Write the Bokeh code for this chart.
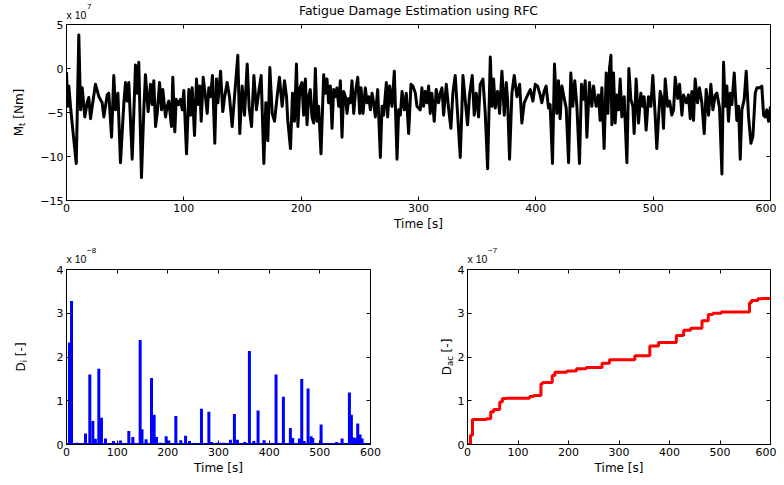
import math
from bokeh.plotting import figure
from bokeh.models import Range1d, LinearAxis, FixedTicker, Label, GridBox
from bokeh.layouts import column
from bokeh.embed import file_html
from bokeh.resources import INLINE

FONT = "DejaVu Sans"
EXP_FONT = "Liberation Sans"

# ---------------- data ----------------
title_text = "Fatigue Damage Estimation using RFC"
time_ticks = [0, 100, 200, 300, 400, 500, 600]
mt_ticks = [-15, -10, -5, 0, 5]
d_ticks = [0, 1, 2, 3, 4]

# Mt in units of 1e7 Nm
mt_time = [0, 1, 2, 3.4, 4.8, 8.3, 10.5, 12, 13.4, 15.6, 17.6, 19, 20.5, 21.9, 24.7, 27.6, 30.4, 31.8, 34.7, 36,
           38.4, 40.3, 41.8, 43.8, 46, 48.9, 50.3, 51.7, 53.1, 56, 58.8, 60.2, 61.6, 63.9, 65.9, 67.3, 69.6, 71.6,
           73, 74.4, 75.9, 77.3, 79.3, 81, 82.1, 84.4, 85.8, 87.2, 89.5, 90.6, 92.3, 93.5, 95.7, 97.2, 98.6, 100,
           102.3, 104.3, 105.7, 107.1, 109.1, 110.8, 111.9, 113.6, 114.8, 116.5, 118.5, 119.9, 121.3, 122.7, 124.4,
           126.4, 127.8, 129, 131.3, 133.2, 134.7, 136.9, 138.9, 141.2, 143.2, 146, 147.7, 149.7, 151.7, 154, 155.7,
           157.7, 159.7, 161.9, 163.9, 165.9, 168.2, 169.9, 171.6, 173.3, 175.3, 177.3, 179.5, 181.5, 183.8, 185.8,
           187.5, 188.6, 190.9, 192.6, 194.3, 196, 197.2, 198.9,
           200.7, 202.1, 203.6, 205, 206.4, 207.8, 209.2, 210.7, 212.1, 213.5, 214.9, 216.9, 219.2, 220.6, 222,
           223.4, 224.9, 226.3, 227.7, 229.1, 230.5, 232, 233.4, 234.8, 236.2, 237.7, 239.1, 240.5, 241.9, 243.3,
           244.8, 246.2, 248.2, 249.9, 251, 252.7, 254.7, 256.1, 257.5, 259, 260.4, 261.8, 263.2, 265.2, 267.5,
           268.9, 270.3, 272.6, 273.7, 275.4, 277.4, 279.4, 281.7, 283.1, 284.5, 286, 287.9, 289.6, 291.6, 293.6,
           295.3, 297.3, 298.7,
           301.5, 302.9, 304.3, 305.8, 307.2, 308.6, 310, 311.4, 313.4, 315.1, 317.1, 318.5, 320, 321.4, 323.7,
           325.6, 327.6, 329.3, 331.3, 333.3, 335.6, 337.9, 339.9, 341.8, 343.5, 345.8, 347.5, 349.2, 351.2, 352.6,
           354.9, 356.9, 358.9, 361.2, 362.6, 364, 365.4, 367.4, 369.1, 371.1, 373.1, 374.8, 375.9, 377.6, 379.6,
           381.6, 383.9, 386.2, 388.1, 390.1, 392.4, 395.3, 397.5, 399.5, 401.5,
           403.7, 405.1, 407.1, 408.8, 410.8, 412.2, 414.2, 415.9, 417.9, 419.3, 420.7, 422.2, 424.2, 425.9, 427.9,
           429.8, 431.5, 433.2, 435, 437.2, 438.9, 440.6, 442.1, 443.5, 445.7, 447.7, 449.2, 451.4, 453.4, 454.8,
           456.3, 458.2, 460, 461.4, 462.8, 464, 464.8, 466.2, 467.6, 469, 470.5, 471.9, 473.3, 475.3, 477.6, 479.3,
           481, 482.7, 483.8, 485.5, 487.5, 489.5, 491.2, 492.3, 494, 496, 498, 499.7, 501.7, 503.1, 504.8,
           506, 507.4, 508.8, 510.3, 512.3, 514, 515.9, 517.4, 518.8, 520.8, 522.5, 524.5, 525.9, 528.2, 530.1,
           531.6, 533, 534.4, 535.8, 537.8, 539.5, 541.5, 543.5, 545.2, 547.2, 549.2, 550.9, 552.9, 554.3, 556.6,
           558.6, 560, 561.4, 562.8, 564.2, 565.7, 567.1, 569.1, 571.3, 572.8, 574.2, 575.6, 577.6, 579.3, 581.3,
           583.3, 585, 587, 588.4, 590.7, 592.6, 594.1, 595.5, 596.9, 598.3, 600]
mt_val = [-0.4, -4.3, -2.0, -4.3, -6.2, -10.8, 3.8, -4.7, -2.2, -5.5, -3.9, -3.3, -5.7, -4.3, -1.8, -3.2, -3.9, -5.5,
          -3.0, -2.8, -7.8, -0.8, -4.7, -2.8, -10.7, -3.9, -1.6, -3.7, -1.6, -10.3, 0.4, -2.8, 0.7, -12.4, -4.7,
          -0.7, -4.9, -1.8, -4.1, -1.4, -6.6, -5.1, -1.6, -4.7, -2.4, -5.5, -4.3, -3.7, -6.6, -1.0, -7.2, -3.5,
          -4.1, -3.5, -4.7, -2.5,
          -9.7, -2.4, -5.3, -2.2, -7.6, -1.2, -4.1, -2.0, -6.0, -1.0, -3.3, -5.1, -2.2, -3.2, -0.8, -8.5, -1.2,
          -3.9, -0.3, -4.9, -3.3, -1.6, -3.2, -6.6, -3.2, 1.5, -7.4, -2.0, -5.3, 0.5, -4.5, -6.6, -0.8, -4.7,
          -2.6, -0.8, -10.8, -3.9, -8.2, 0.1, -5.1, -6.0, -3.2, -1.0, -4.3, -1.4, -3.2, -5.9, -9.1, -2.8, -6.0,
          0.5, -6.6, -2.2,
          -1.6, -5.3, -1.2, -6.4, -3.2, -2.4, -5.5, -6.2, 0.0, -6.0, -4.3, -9.7, -0.7, -2.8, -1.2, -3.9, -2.0,
          -6.8, -2.4, -3.2, -2.2, -4.3, -1.4, -7.8, -2.6, -3.2, -5.1, -3.4, -3.9, -1.4, -5.1, -2.8, -1.0, -5.1,
          -2.2, -5.1, -2.2, -3.9, -3.2, -4.7, -2.8, -3.9, -5.5, -2.4, -10.1, -4.3, -5.3, -1.6, -5.5, -2.0, -4.3,
          -0.3, -10.3, -4.7, -5.3, -2.6, -4.7, -2.8, -7.4, -1.8, -2.0, -2.8, -4.3,
          -4.7, -2.2, -4.3, -2.6, -3.9, -2.0, -5.1, -2.8, -6.0, -2.4, -3.9, -2.8, -2.2, -5.3, -1.8, -4.5, -6.8,
          -2.8, -0.8, -5.1, -10.1, -0.8, -3.7, -6.4, -3.0, -0.8, -5.3, -2.8, -5.5, -1.8, -1.2, -5.1, -11.4, 1.3,
          -4.3, -1.2, -4.5, -2.6, -5.1, -0.3, -5.3, -1.6, -3.5, -10.3, -2.8, -0.8, -3.2, -1.8, -6.2, -3.9, -3.2,
          -2.4, -3.7, -1.8, -2.0,
          -3.0, -3.9, -2.6, -2.0, -4.5, -4.1, -10.8, 0.5, -5.1, -1.4, -5.7, -2.0, -3.4, -4.5, -10.7, -0.5, -4.3,
          -1.4, -4.3, -10.8, -1.8, -3.5, -1.4, -7.8, -1.6, -4.3, -2.0, -4.3, -3.0, -5.9, -2.2, -9.1, -0.5, -5.1,
          0.0, 1.5, -6.4, -0.5, -6.2, -3.0, -4.7, -1.2, -5.5, -3.2, -10.7, 0.0, -3.5, -4.3, -7.4, -1.2, -6.2,
          -2.8, -4.3, -3.2, -7.0, -3.2, -4.3, -0.8, -5.3, -9.1, -5.1,
          -2.6, -3.4, -6.8, -1.2, -4.3, -3.7, -5.3, -4.7, -1.0, -3.4, -1.8, -5.3, -3.0, -3.9, -3.0, -5.7, -2.6,
          -5.9, -1.2, -3.9, -2.2, -3.9, -7.4, -2.4, -5.3, -1.8, -4.7, -3.0, -2.8, -4.5, -12.0, 0.7, -4.3, -2.0,
          -6.0, -2.8, -4.1, -0.5, -5.9, -4.3, -10.3, -4.7, -3.5, -0.3, -5.5, -8.5, -7.7, -2.8, -2.2, -2.2, -2.0,
          -5.3, -5.5, -4.7, -6.0, -4.3]

# Damage per cycle, units of 1e-8
di_time = [5.9, 9.9, 20, 28, 37.5, 46, 52, 57, 63.8, 69, 77, 93, 106.6, 123, 131, 145.4, 149, 157, 167.8, 173,
           177.6, 185.5, 196.7, 202, 215.8, 225.6, 235, 242.8, 266.4, 281, 286, 297, 302, 310, 323.5, 331.4,
           337.3, 351.8, 361, 369.6, 378.1, 390, 399, 413.6, 420, 428.1, 441.9, 446.5, 459.7, 464.3, 469, 476.8,
           482.7, 486, 502.5, 510, 533, 543.9, 558.4, 562.3, 566.9, 570, 574.8, 579.4, 583.4, 590, 596]
di_val = [2.33, 3.28, 0.04, 0.03, 0.25, 1.60, 0.54, 0.13, 1.73, 0.61, 0.14, 0.08, 0.09, 0.31, 0.17, 2.39, 0.35,
          0.12, 1.52, 0.68, 0.17, 0.04, 0.19, 0.09, 0.65, 0.10, 0.20, 0.08, 0.82, 0.75, 0.06, 0.04, 0.04, 0.04,
          0.11, 0.70, 0.11, 0.06, 2.14, 0.08, 0.78, 0.10, 0.03, 1.60, 0.03, 1.09, 0.38, 0.15, 0.14, 1.50, 0.08,
          1.28, 0.19, 0.15, 0.46, 0.03, 0.06, 0.14, 1.19, 0.68, 0.16, 0.15, 0.48, 0.23, 0.14, 0.03, 0.03]

# Accumulated damage, units of 1e-7
dac_time = [0, 5.9, 9.9, 37.5, 46, 52, 63.8, 69, 77, 123, 131, 145.4, 149, 167.8, 173, 196.7, 215.8, 235, 266.4,
            281, 331.4, 361, 378.1, 413.6, 428.1, 441.9, 464.3, 476.8, 486, 502.5, 558.4, 562.3, 574.8, 583.4, 600]
dac_val = [0, 0.21, 0.57, 0.59, 0.75, 0.80, 0.97, 1.05, 1.06, 1.10, 1.12, 1.39, 1.42, 1.58, 1.65, 1.68, 1.73, 1.76,
           1.86, 1.94, 2.03, 2.25, 2.33, 2.49, 2.61, 2.66, 2.83, 2.97, 3.00, 3.03, 3.24, 3.29, 3.33, 3.34, 3.35]

# ---------------- helpers ----------------
CHAR_W = {'M': .863, 't': .392, ' ': .318, '[': .39, 'N': .748, 'm': .974, ']': .39, 'D': .770,
          'i': .278, '-': .361, 'a': .613, 'c': .550}


def text_w(s, size):
    return sum(CHAR_W.get(ch, 0.6) for ch in s) * size


def minus(v):
    return str(v).replace("-", "\u2212")


def make_fig(fw, fh, bl, br, bt, bb, xr, yr):
    p = figure(output_backend="svg", toolbar_location=None, frame_width=fw, frame_height=fh,
               min_border_left=bl, min_border_right=br, min_border_top=bt, min_border_bottom=bb,
               x_range=Range1d(*xr), y_range=Range1d(*yr), x_axis_type=None, y_axis_type=None)
    p.outline_line_color = "black"
    p.outline_line_width = 1
    p.background_fill_color = "white"
    p.border_fill_color = "white"
    return p


def add_axes(p, xticks, yticks, xlabel):
    for loc, ticks, show in [("below", xticks, True), ("above", xticks, False),
                             ("left", yticks, True), ("right", yticks, False)]:
        ax = LinearAxis(ticker=FixedTicker(ticks=ticks, minor_ticks=[]))
        ax.axis_line_color = "black"
        ax.axis_line_width = 1
        ax.major_tick_line_color = "black"
        ax.major_tick_in = 4
        ax.major_tick_out = 0
        ax.minor_tick_line_color = None
        ax.major_label_text_font = FONT
        if show:
            ax.major_label_text_color = "black"
            ax.major_label_text_font_size = "11px"
            ax.major_label_standoff = 3
            ax.major_label_overrides = {t: minus(t) for t in ticks}
        else:
            ax.major_label_text_color = None
            ax.major_label_text_font_size = "0px"
            ax.major_label_standoff = 0
        if loc == "below":
            ax.axis_label = xlabel
            ax.axis_label_text_font = FONT
            ax.axis_label_text_font_size = "12px"
            ax.axis_label_text_font_style = "normal"
            ax.axis_label_text_color = "black"
            ax.axis_label_standoff = 2
        p.add_layout(ax, loc)


# ---------------- top: Mt ----------------
top = make_fig(704, 176, 66, 6, 24, 40, (0, 600), (-15, 5))
add_axes(top, time_ticks, mt_ticks, "Time [s]")
top.line(mt_time, mt_val, line_color="black", line_width=3, line_join="round")

# ---------------- bottom left: Di ----------------
bl = make_fig(304, 175, 66, 40, 29, 33, (0, 600), (0, 4))
add_axes(bl, time_ticks, d_ticks, "Time [s]")
bl.line([time_ticks[0], time_ticks[-1]], [0, 0], line_color="#0000FF", line_width=3)
bl.segment(x0=di_time, y0=[0] * len(di_time), x1=di_time, y1=di_val, line_color="#0000FF",
           line_width=3, line_cap="butt")

# ---------------- bottom right: Dac ----------------
br = make_fig(303, 175, 57, 6, 29, 33, (0, 600), (0, 4))
add_axes(br, time_ticks, d_ticks, "Time [s]")
br.step(dac_time, dac_val, mode="after", line_color="#FF0000", line_width=3)

# ---------------- transparent overlay carrying the free texts ----------------
W, H = 776, 477
ov = figure(output_backend="svg", toolbar_location=None, frame_width=W, frame_height=H,
            min_border=0, x_axis_type=None, y_axis_type=None,
            x_range=Range1d(0, W), y_range=Range1d(0, H))
ov.outline_line_color = None
ov.background_fill_alpha = 0
ov.border_fill_alpha = 0
ov.grid.visible = False


def put(px, py, text, size, align="left", angle=0.0, font=FONT):
    ov.add_layout(Label(x=px, y=H - py, x_units="screen", y_units="screen", text=text, angle=angle,
                        text_align=align, text_baseline="middle", text_font=font,
                        text_font_size=f"{size}px", text_color="black"))


def vlabel(pieces, xc, yc):
    total = sum(text_w(s, sz) for s, sz, _ in pieces)
    y = yc + total / 2
    for s, sz, sub in pieces:
        lead = len(s) - len(s.lstrip(" "))
        y -= text_w(" " * lead, sz)
        put(xc + sub, y, s.strip(" "), sz, angle=math.pi / 2)
        y -= text_w(s.strip(" "), sz)


def exponent(x0, yc, exp_text):
    put(x0, yc, "x 10", 10.5, font=EXP_FONT)
    put(x0 + 20.5, yc - 8, exp_text, 8, font=EXP_FONT)


put(418, 9.5, title_text, 12.5, align="center")
# exponent markers
exponent(66, 14, "7")
exponent(66, 258, "\u22128")
exponent(467, 258, "\u22127")
# y-axis labels with subscripts
vlabel([("M", 12, 0), ("t", 8.5, 3), (" [Nm]", 12, 0)], 18, 112)
vlabel([("D", 12, 0), ("i", 8.5, 3), (" [-]", 12, 0)], 20, 356.5)
vlabel([("D", 12, 0), ("ac", 8.5, 3), (" [-]", 12, 0)], 446, 356.5)

# row 0 / column 0 are empty tracks, so the overlay shares no frame edge with the plots
layout = GridBox(children=[(top, 1, 1, 1, 2), (bl, 2, 1), (br, 2, 2), (column(ov), 0, 0, 3, 3)], spacing=0)

with open("out.html", "w") as f:
    f.write(file_html(layout, INLINE))
